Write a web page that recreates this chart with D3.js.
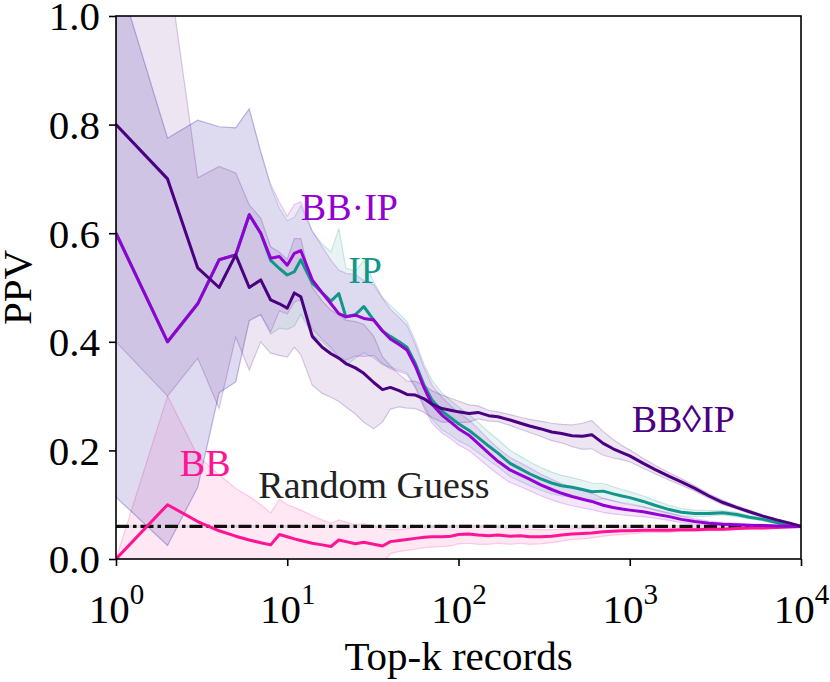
<!DOCTYPE html>
<html>
<head>
<meta charset="utf-8">
<script src="https://cdn.jsdelivr.net/npm/d3@7"></script>
<style>
  body { margin: 0; background: #fff; }
  svg text { font-family: "Liberation Serif", "Times New Roman", serif; }
</style>
</head>
<body>
<div class="canvas"></div>
<script>
// top-k grid (x axis, log scale)
const topK = [1,2,3,4,5,6,7,8,9,10,11,12,14,16,18,20,22,25,28,32,36,40,45,50,56,63,70,80,90,100,
  115,130,150,170,200,230,260,300,350,400,460,530,600,700,800,900,1000,1200,1400,1700,2000,2400,
  2900,3500,4200,5000,6000,7200,8600,10000];

// BB
const bbMean = [0,0.10,0.069,0.052,0.042,0.035,0.03,0.026,0.045,0.041,0.037,0.034,0.029,0.026,0.023,0.035,
  0.032,0.028,0.031,0.027,0.024,0.032,0.034,0.036,0.038,0.04,0.041,0.041,0.042,0.045,0.046,0.044,0.043,
  0.044,0.042,0.043,0.041,0.041,0.042,0.044,0.046,0.047,0.048,0.05,0.051,0.052,0.052,0.053,0.053,0.053,
  0.054,0.054,0.055,0.055,0.056,0.057,0.057,0.058,0.059,0.06];
const bbHi = [0,0.30,0.19,0.155,0.13,0.115,0.10,0.085,0.11,0.10,0.095,0.09,0.08,0.072,0.066,0.072,0.068,
  0.063,0.065,0.06,0.056,0.054,0.054,0.056,0.058,0.059,0.06,0.059,0.06,0.062,0.063,0.061,0.059,0.059,
  0.057,0.057,0.055,0.054,0.054,0.055,0.056,0.057,0.057,0.058,0.058,0.059,0.058,0.058,0.057,0.057,0.057,
  0.057,0.058,0.058,0.058,0.059,0.059,0.059,0.06,0.06];
const bbLo = [0,-0.10,-0.052,-0.051,-0.046,-0.045,-0.04,-0.033,-0.02,-0.018,-0.021,-0.022,-0.022,-0.02,
  -0.02,-0.002,-0.004,-0.007,-0.003,-0.006,-0.008,0.01,0.014,0.016,0.018,0.021,0.022,0.023,0.024,0.028,
  0.029,0.027,0.027,0.029,0.027,0.029,0.027,0.028,0.03,0.033,0.036,0.037,0.039,0.042,0.044,0.045,0.046,
  0.048,0.049,0.049,0.051,0.051,0.052,0.052,0.054,0.055,0.055,0.057,0.058,0.06];

// IP
const ipMean = [0.60,0.40,0.47,0.551,0.56,0.634,0.60,0.55,0.535,0.523,0.529,0.551,0.508,0.49,0.475,0.489,
  0.446,0.45,0.465,0.44,0.42,0.41,0.40,0.39,0.36,0.32,0.293,0.272,0.26,0.249,0.237,0.224,0.208,0.195,
  0.176,0.166,0.157,0.148,0.14,0.135,0.132,0.128,0.124,0.125,0.12,0.116,0.113,0.106,0.099,0.091,0.086,
  0.084,0.084,0.085,0.082,0.077,0.073,0.067,0.063,0.06];
const ipHi = [1.086,0.775,0.808,0.796,0.794,0.829,0.75,0.686,0.645,0.623,0.629,0.651,0.603,0.58,0.565,
  0.609,0.536,0.53,0.55,0.51,0.482,0.467,0.452,0.437,0.402,0.358,0.329,0.306,0.292,0.28,0.266,0.252,
  0.234,0.22,0.20,0.189,0.179,0.169,0.16,0.154,0.15,0.145,0.14,0.139,0.133,0.128,0.124,0.116,0.108,
  0.099,0.093,0.09,0.089,0.089,0.086,0.08,0.076,0.069,0.064,0.06];
const ipLo = [0.114,0.025,0.132,0.306,0.326,0.439,0.45,0.414,0.425,0.423,0.429,0.451,0.413,0.40,0.385,
  0.369,0.356,0.37,0.38,0.37,0.358,0.353,0.348,0.343,0.318,0.282,0.257,0.238,0.228,0.218,0.208,0.196,
  0.182,0.17,0.152,0.143,0.135,0.127,0.12,0.116,0.114,0.111,0.108,0.111,0.107,0.104,0.102,0.096,0.09,
  0.083,0.079,0.078,0.079,0.081,0.078,0.074,0.07,0.065,0.062,0.06];

// BB·IP
const bbipMean = [0.60,0.40,0.47,0.551,0.56,0.634,0.60,0.554,0.557,0.541,0.563,0.568,0.514,0.49,0.47,
  0.452,0.446,0.449,0.443,0.44,0.42,0.405,0.395,0.385,0.355,0.315,0.285,0.265,0.252,0.24,0.228,0.213,
  0.195,0.18,0.164,0.155,0.147,0.137,0.128,0.121,0.115,0.11,0.106,0.099,0.095,0.092,0.09,0.087,0.083,
  0.078,0.073,0.069,0.066,0.064,0.063,0.062,0.0615,0.061,0.0605,0.06];
const bbipHi = [1.086,0.775,0.808,0.796,0.794,0.829,0.75,0.69,0.657,0.631,0.653,0.658,0.604,0.575,0.55,
  0.532,0.526,0.524,0.513,0.505,0.48,0.46,0.445,0.43,0.395,0.352,0.32,0.298,0.282,0.27,0.256,0.24,0.22,
  0.204,0.187,0.177,0.168,0.157,0.147,0.139,0.132,0.126,0.121,0.112,0.107,0.103,0.10,0.096,0.091,0.085,
  0.079,0.074,0.07,0.067,0.066,0.064,0.0635,0.062,0.0615,0.06];
const bbipLo = [0.114,0.025,0.132,0.306,0.326,0.439,0.45,0.418,0.457,0.451,0.473,0.478,0.424,0.405,0.39,
  0.372,0.366,0.374,0.373,0.375,0.36,0.35,0.345,0.34,0.315,0.278,0.25,0.232,0.222,0.21,0.20,0.186,0.17,
  0.156,0.141,0.133,0.126,0.117,0.109,0.103,0.098,0.094,0.091,0.086,0.083,0.081,0.08,0.078,0.075,0.071,
  0.067,0.064,0.062,0.061,0.06,0.06,0.0595,0.06,0.0595,0.06];

// BB◊IP
const bbdiaMean = [0.80,0.70,0.536,0.50,0.56,0.50,0.514,0.477,0.47,0.462,0.49,0.483,0.41,0.39,0.378,0.37,
  0.36,0.352,0.342,0.325,0.312,0.316,0.31,0.303,0.302,0.295,0.285,0.277,0.274,0.271,0.268,0.27,0.264,
  0.262,0.256,0.25,0.245,0.24,0.234,0.231,0.227,0.226,0.229,0.213,0.203,0.196,0.19,0.176,0.165,0.152,
  0.142,0.13,0.116,0.104,0.095,0.087,0.079,0.072,0.066,0.06];
const bbdiaHi = [1.20,1.10,0.702,0.723,0.711,0.652,0.628,0.575,0.565,0.552,0.59,0.59,0.50,0.475,0.458,
  0.45,0.44,0.437,0.432,0.41,0.372,0.356,0.34,0.328,0.327,0.32,0.31,0.302,0.296,0.291,0.284,0.282,0.274,
  0.271,0.266,0.261,0.257,0.254,0.25,0.248,0.247,0.25,0.255,0.235,0.22,0.209,0.201,0.185,0.173,0.159,
  0.148,0.135,0.12,0.108,0.098,0.09,0.081,0.074,0.067,0.06];
const bbdiaLo = [0.40,0.30,0.37,0.277,0.409,0.348,0.40,0.379,0.375,0.372,0.39,0.376,0.32,0.305,0.298,
  0.29,0.28,0.267,0.252,0.24,0.252,0.276,0.28,0.278,0.277,0.27,0.26,0.252,0.252,0.251,0.252,0.258,0.254,
  0.253,0.246,0.239,0.233,0.226,0.218,0.214,0.207,0.202,0.203,0.191,0.186,0.183,0.179,0.167,0.157,0.145,
  0.136,0.125,0.112,0.10,0.092,0.084,0.077,0.07,0.065,0.06];

const randomGuess = 0.06;
const xTicks = [1, 10, 100, 1000, 10000];
const yTicks = [0, 0.2, 0.4, 0.6, 0.8, 1.0];

const dims = { width: 830, height: 682 };
const margin = { top: 16, left: 116 };
const inner = { w: 685, h: 543 };

const series = [
  { name: 'BB', mean: bbMean, lo: bbLo, hi: bbHi, color: '#ff1493', label: [2.36, 0.152] },
  { name: 'IP', mean: ipMean, lo: ipLo, hi: ipHi, color: '#12968a', label: [22.7, 0.508] },
  { name: 'BB\u00b7IP', mean: bbipMean, lo: bbipLo, hi: bbipHi, color: '#9400d3', label: [12.0, 0.624] },
  { name: 'BB\u25caIP', mean: bbdiaMean, lo: bbdiaLo, hi: bbdiaHi, color: '#4b0082', label: [1026, 0.234] }
];

const svg = d3.select('.canvas')
  .append('svg')
  .attr('width', dims.width)
  .attr('height', dims.height)

const graph = svg.append('g')
  .attr('transform', `translate(${margin.left}, ${margin.top})`)

const x = d3.scaleLog().domain([1, 10000]).range([0, inner.w]);
const y = d3.scaleLinear().domain([0, 1]).range([inner.h, 0]);

graph.append('clipPath')
  .attr('id', 'plot-clip')
  .append('rect')
  .attr('width', inner.w)
  .attr('height', inner.h)

const plot = graph.append('g').attr('clip-path', 'url(#plot-clip)');

const area = d3.area()
  .x(d => x(d.k))
  .y0(d => y(d.lo))
  .y1(d => y(d.hi))

const line = d3.line()
  .x(d => x(d.k))
  .y(d => y(d.v))

// bands first, then the reference line, then the means on top
series.forEach(s => {
  const rows = topK.map((k, i) => ({ k, lo: s.lo[i], hi: s.hi[i] }));
  plot.append('path')
    .attr('d', area(rows))
    .attr('fill', s.color)
    .attr('fill-opacity', 0.1)
    .attr('stroke', s.color)
    .attr('stroke-opacity', 0.2)
    .attr('stroke-width', 1.2)
});

const guess = [{ k: 1, v: randomGuess }, { k: 10000, v: randomGuess }];
plot.append('path')
  .attr('d', line(guess))
  .attr('stroke', '#d0d0d0')
  .attr('stroke-opacity', 0.6)
  .attr('stroke-width', 3)
  .attr('fill', 'none')
plot.append('path')
  .attr('d', line(guess))
  .attr('stroke', '#111')
  .attr('stroke-width', 3.2)
  .attr('stroke-dasharray', '13,4,3.5,4')
  .attr('fill', 'none')

series.forEach(s => {
  const rows = topK.map((k, i) => ({ k, v: s.mean[i] }));
  plot.append('path')
    .attr('d', line(rows))
    .attr('fill', 'none')
    .attr('stroke', s.color)
    .attr('stroke-width', 3)
    .attr('stroke-linejoin', 'round')
});

// axes
const xAxis = graph.append('g')
  .attr('transform', `translate(0, ${inner.h})`)
  .call(d3.axisBottom(x).tickValues(xTicks).tickFormat('').tickSize(7).tickSizeOuter(0))

xAxis.select('.domain').remove();
xAxis.selectAll('.tick line').attr('stroke-width', 1.6);

const xLab = xAxis.selectAll('.tick')
  .append('text')
  .attr('y', 64)
  .attr('fill', '#000')
  .attr('text-anchor', 'middle')
  .style('font-size', '41px')

xLab.append('tspan').text('10');
xLab.append('tspan')
  .attr('dy', -19)
  .style('font-size', '29px')
  .text(d => Math.round(Math.log10(d)));

const yAxis = graph.append('g')
  .call(d3.axisLeft(y).tickValues(yTicks).tickFormat(d3.format('.1f')).tickSize(7).tickPadding(9).tickSizeOuter(0))

yAxis.select('.domain').remove();
yAxis.selectAll('.tick line').attr('stroke-width', 1.6);
yAxis.selectAll('.tick text')
  .attr('fill', '#000')
  .style('font-size', '41px')
  .attr('dy', '0.34em')

graph.append('rect')
  .attr('width', inner.w)
  .attr('height', inner.h)
  .attr('fill', 'none')
  .attr('stroke', '#000')
  .attr('stroke-width', 1.6)

// series names placed in data space
series.forEach(s => {
  graph.append('text')
    .attr('x', x(s.label[0]))
    .attr('y', y(s.label[1]))
    .attr('fill', s.color)
    .style('font-size', '38px')
    .text(s.name)
});

graph.append('text')
  .attr('x', x(6.78))
  .attr('y', y(0.112))
  .attr('fill', '#222')
  .style('font-size', '38px')
  .text('Random Guess')

svg.append('text')
  .attr('x', margin.left + inner.w / 2)
  .attr('y', 670)
  .attr('text-anchor', 'middle')
  .style('font-size', '41px')
  .text('Top-k records')

svg.append('text')
  .attr('transform', `translate(31, ${margin.top + inner.h / 2}) rotate(-90)`)
  .attr('text-anchor', 'middle')
  .style('font-size', '41px')
  .text('PPV')
</script>
</body>
</html>
